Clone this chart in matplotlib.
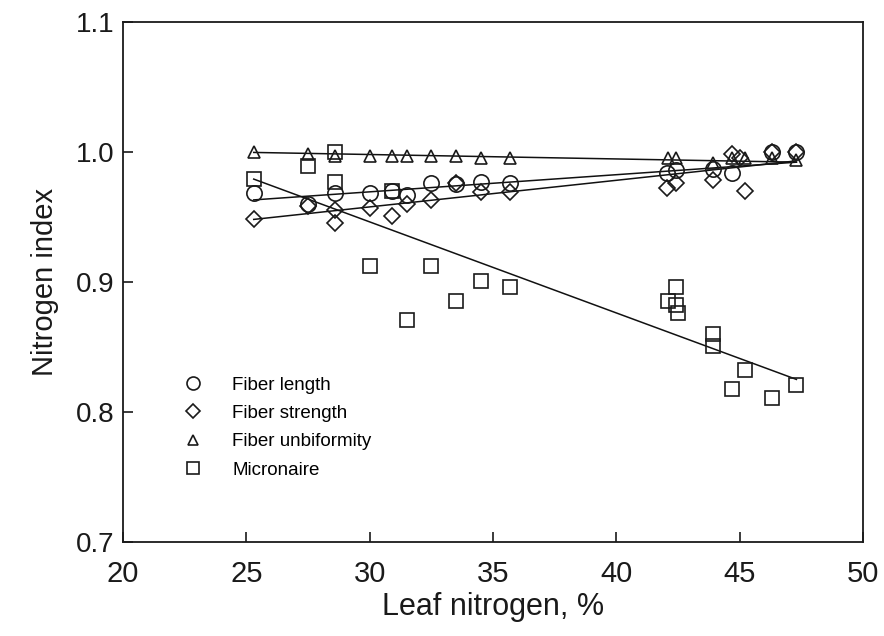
import numpy as np
import matplotlib
matplotlib.use("Agg")
import matplotlib.pyplot as plt
from matplotlib.lines import Line2D

plt.rcParams["font.family"] = ["Liberation Sans", "DejaVu Sans"]

# Leaf nitrogen (%) and nitrogen index
length_x = [25.3, 27.5, 28.6, 30.0, 30.9, 31.5, 32.5, 33.5, 34.5, 35.7, 42.05, 42.4, 43.9, 44.7, 46.3, 47.3]
length_y = [0.968, 0.960, 0.968, 0.968, 0.970, 0.967, 0.976, 0.975, 0.977, 0.976, 0.984, 0.986, 0.987, 0.984, 1.000, 1.000]

strength_x = [25.3, 27.5, 28.6, 28.6, 30.0, 30.9, 31.5, 32.5, 33.5, 34.5, 35.7, 42.05, 42.4, 43.9, 44.7, 45.0, 45.2, 46.3, 47.3]
strength_y = [0.948, 0.958, 0.955, 0.945, 0.957, 0.951, 0.960, 0.963, 0.976, 0.969, 0.969, 0.972, 0.976, 0.978, 0.998, 0.995, 0.970, 1.000, 1.000]

unif_x = [25.3, 27.5, 28.6, 30.0, 30.9, 31.5, 32.5, 33.5, 34.5, 35.7, 42.1, 42.4, 43.9, 44.7, 45.2, 46.3, 47.3]
unif_y = [1.000, 0.998, 0.997, 0.997, 0.997, 0.997, 0.997, 0.997, 0.995, 0.995, 0.995, 0.995, 0.991, 0.995, 0.995, 0.995, 0.994]

micro_x = [25.3, 27.5, 28.6, 28.6, 30.0, 30.9, 31.5, 32.5, 33.5, 34.5, 35.7, 42.1, 42.4, 42.4, 42.5, 43.9, 43.9, 44.7, 45.2, 46.3, 47.3]
micro_y = [0.979, 0.989, 1.000, 0.977, 0.912, 0.970, 0.871, 0.912, 0.885, 0.901, 0.896, 0.885, 0.896, 0.882, 0.876, 0.860, 0.851, 0.818, 0.832, 0.811, 0.821]

# regression line end points
fit_x = [25.3, 47.3]
length_fit = [0.963, 0.992]
strength_fit = [0.948, 0.993]
unif_fit = [0.9995, 0.992]
micro_fit = [0.979, 0.825]

labels = ["Fiber length", "Fiber strength", "Fiber unbiformity", "Micronaire"]

fig = plt.figure(figsize=(8.84, 6.36), dpi=100)
ax = fig.add_axes([123 / 884, 1 - 542 / 636, 740 / 884, 520.3 / 636])

series = [
    (length_x, length_y, length_fit, "o", 11),
    (strength_x, strength_y, strength_fit, "D", 8.5),
    (unif_x, unif_y, unif_fit, "^", 9),
    (micro_x, micro_y, micro_fit, "s", 9.5),
]

for xs, ys, fit, mk, ms in series:
    ax.plot(fit_x, fit, color="#111111", linewidth=1.1, zorder=2)
    ax.plot(xs, ys, linestyle="none", marker=mk, markersize=ms,
            markerfacecolor="none", markeredgecolor="#1a1a1a",
            markeredgewidth=1.2, zorder=3)

handles = []
for (xs, ys, fit, mk, ms), lab in zip(series, labels):
    handles.append(Line2D([], [], linestyle="none", marker=mk, markersize=ms * 0.85,
                          markerfacecolor="none", markeredgecolor="#1a1a1a",
                          markeredgewidth=1.2, label=lab))
ax.legend(handles=handles, loc="upper left", bbox_to_anchor=(0.063, 0.336),
          frameon=False, fontsize=13.5, handletextpad=1.35, labelspacing=0.6,
          handlelength=1.5, borderpad=0)

ax.set_xlim(20, 50)
ax.set_ylim(0.7, 1.1)
ax.set_xticks([20, 25, 30, 35, 40, 45, 50])
ax.set_yticks([0.7, 0.8, 0.9, 1.0, 1.1])
ax.set_yticklabels(["0.7", "0.8", "0.9", "1.0", "1.1"])
ax.tick_params(direction="in", length=7, width=1.2, colors="#1a1a1a",
               top=False, right=False)
ax.tick_params(axis="x", labelsize=21, pad=13)
ax.tick_params(axis="y", labelsize=20, pad=6)
for sp in ax.spines.values():
    sp.set_linewidth(1.3)
    sp.set_color("#1a1a1a")

ax.set_xlabel("Leaf nitrogen, %", fontsize=22, color="#1a1a1a", labelpad=3)
ax.set_ylabel("Nitrogen index", fontsize=21, color="#1a1a1a", labelpad=12)

fig.savefig("out.png", dpi=100)
